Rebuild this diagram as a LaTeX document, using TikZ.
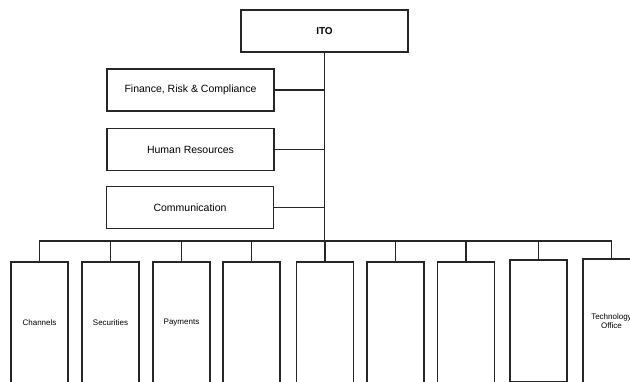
\documentclass[tikz,border=0pt]{standalone}
\usepackage{fontspec}
\setmainfont{Liberation Sans}
\begin{document}
\begin{tikzpicture}[x=1pt,y=-1pt,
  box/.style={draw=black!85,line width=1.5pt,fill=white,rectangle,inner sep=0pt,align=center},
  topbox/.style={box,minimum width=167pt,minimum height=42pt,font=\fontsize{10}{12}\selectfont\bfseries},
  staffbox/.style={box,minimum width=167pt,minimum height=42pt,font=\fontsize{10.5}{12}\selectfont},
  unitbox/.style={box,minimum width=57pt,minimum height=122pt,font=\fontsize{8}{9}\selectfont},
  link/.style={draw=black!85,line width=1.5pt}]
\useasboundingbox (0,0) rectangle (630,381);
\clip (0,0) rectangle (630,381);

% head of the organisation
\node[topbox] (ito) at (324.5,31) {ITO};

% staff functions
\node[staffbox] (fin) at (190.5,90) {Finance, Risk \& Compliance};
\node[staffbox] (hr)  at (190.5,149.5) {Human Resources};
\node[staffbox] (com) at (190,207.5) {Communication};

% business units
\node[unitbox] (u1) at (39.5,323) {Channels};
\node[unitbox] (u2) at (110.5,323) {Securities};
\node[unitbox] (u3) at (181.5,323) {Payments};
\node[unitbox] (u4) at (251.5,323) {};
\node[unitbox] (u5) at (325,323) {};
\node[unitbox] (u6) at (395.5,323) {};
\node[unitbox] (u7) at (466,323) {};
\node[unitbox] (u8) at (538.5,321) {};
\node[unitbox,minimum height=125pt] (u9) at (611.5,321.5) {Technology\\Office};

% connectors
\coordinate (bus) at (ito.south |- 0,241);
\draw[link] (ito.south) -- (bus);
\foreach \s in {fin,hr,com}
  \draw[link] (\s.east) -- (\s.east -| ito.south);
\foreach \i in {1,...,9}
  \draw[link] (u\i.north) |- (bus);
\end{tikzpicture}
\end{document}
